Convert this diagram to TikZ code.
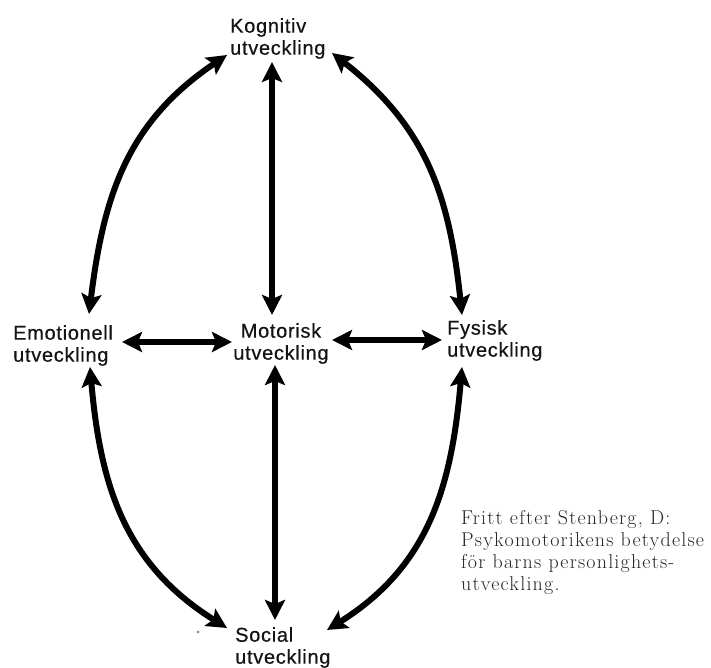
\documentclass[tikz,border=0pt]{standalone}
\usepackage{fontspec}
\newfontfamily\labfont[LetterSpace=3.5,FakeBold=0.5]{Liberation Sans}
\newfontfamily\capfont[LetterSpace=6]{Latin Modern Roman}
\usetikzlibrary{arrows.meta}
\begin{document}
\begin{tikzpicture}[x=1pt,y=1pt,
  lab/.style={inner sep=0pt, font=\labfont\fontsize{20}{22}\selectfont, align=left, text=black!92},
  tipA/.tip={Stealth[length=20pt,width=20pt,inset=4pt]},
  link/.style={line width=6pt, tipA-tipA}]
\useasboundingbox (0,0) rectangle (711,668);
\fill[white] (0,0) rectangle (711,668);

% labels
\node[lab, anchor=north west] (kog) at (230,650) {Kognitiv\\utveckling};
\node[lab, anchor=north west] (emo) at (13,343) {Emotionell\\utveckling};
\node[lab, anchor=north, align=center] (mot) at (281,345) {Motorisk\\utveckling};
\node[lab, anchor=north west] (fys) at (447,348) {Fysisk\\utveckling};
\node[lab, anchor=north west] (soc) at (235,41) {Social\\utveckling};
\node[anchor=north west, inner sep=0pt, align=left, font=\capfont\fontsize{20}{22}\selectfont, text=black!85] (cap) at (461,158)
  {Fritt efter Stenberg, D:\\Psykomotorikens betydelse\\för barns personlighets-\\utveckling.};

% arrow end points
\coordinate (kogSW) at (227,613);
\coordinate (kogS)  at (272,606);
\coordinate (kogSE) at (332,615);
\coordinate (emoN)  at (89,354);
\coordinate (emoE)  at (122,326);
\coordinate (emoS)  at (90,301);
\coordinate (motN)  at (272,353);
\coordinate (motW)  at (232,326);
\coordinate (motE)  at (332,328);
\coordinate (motS)  at (275,303);
\coordinate (fysN)  at (462,353);
\coordinate (fysW)  at (442,328);
\coordinate (fysS)  at (462,301);
\coordinate (socW)  at (227,40);
\coordinate (socN)  at (275,48);
\coordinate (socE)  at (327,38);

% straight connectors
\draw[link] (kogS) -- (motN);
\draw[link] (motS) -- (socN);
\draw[link] (emoE) -- (motW);
\draw[link] (motE) -- (fysW);

% curved connectors
\draw[link] (emoN) .. controls (103.6,473) and (127.5,546) .. (kogSW);
\draw[link] (kogSE) .. controls (426.6,541) and (449.4,472.4) .. (fysN);
\draw[link] (emoS) .. controls (100.4,181.5) and (125.2,103.6) .. (socW);
\draw[link] (fysS) .. controls (451.6,181.5) and (428.8,101.6) .. (socE);

% small speck near Social
\fill[black!45] (198,36) circle (1.5);
\end{tikzpicture}
\end{document}
